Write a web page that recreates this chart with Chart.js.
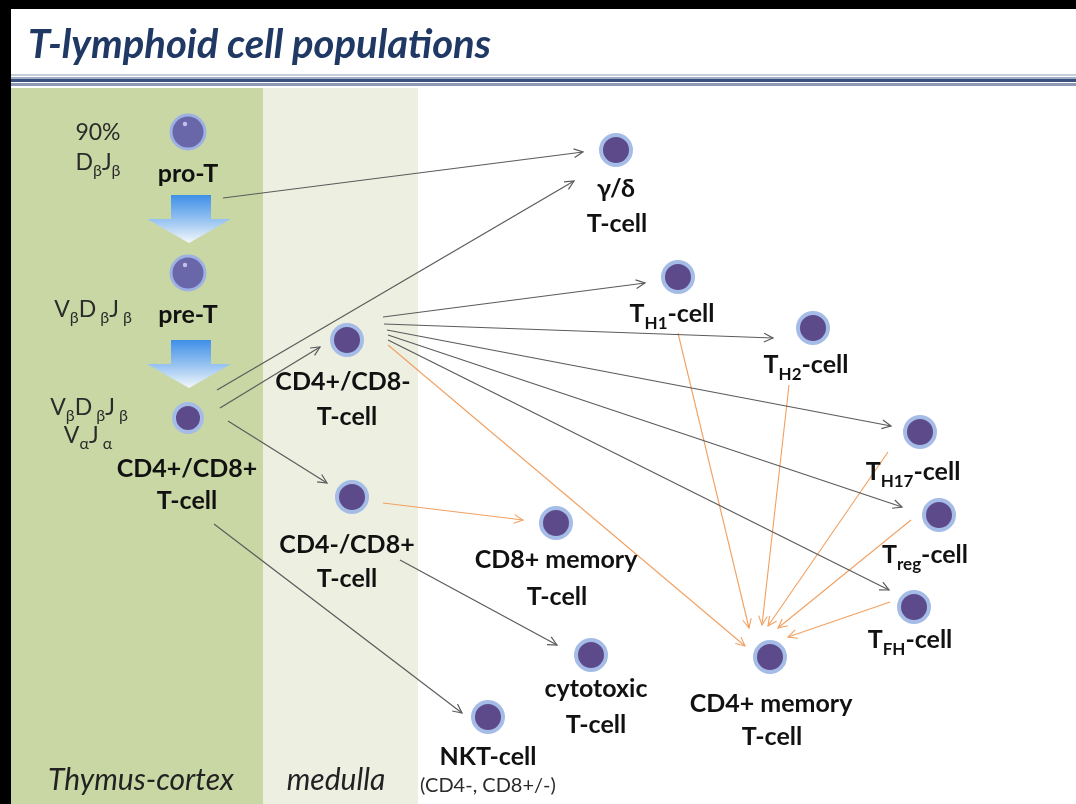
<!DOCTYPE html>
<html>
<head>
<meta charset="utf-8">
<script src="https://cdn.jsdelivr.net/npm/chart.js@4.4.1/dist/chart.umd.min.js"></script>
<style>
  html, body { margin: 0; padding: 0; background: #fff; overflow: hidden; }
  canvas { display: block; }
</style>
</head>
<body>
<canvas id="diagram" width="1076" height="804"></canvas>
<script>
// cell populations: centre of each cell in page pixels
const cellNames = ['pro-T', 'pre-T', 'CD4+/CD8+', 'γ/δ', 'TH1', 'TH2', 'CD4+/CD8-', 'TH17', 'Treg',
                   'CD4-/CD8+', 'CD8+ memory', 'TFH', 'cytotoxic', 'CD4+ memory', 'NKT'];
const cellX = [188, 188, 188, 616, 678, 813, 347, 920, 939, 352, 556, 914, 591, 770, 488];
const cellY = [132, 273, 418, 150, 277, 328, 340, 432, 515, 497, 523, 607, 655, 657, 717];

// differentiation arrows (start -> end), 'g' = grey, 'o' = orange (memory)
const arrowX1 = [223, 217, 220, 228, 214, 383, 384, 387, 388, 388, 400, 388, 383, 678, 789, 888, 911, 890];
const arrowY1 = [198, 390, 408, 421, 524, 317, 324, 330, 335, 340, 560, 345, 503, 333, 385, 452, 520, 602];
const arrowX2 = [583, 574, 320, 327, 462, 645, 773, 891, 902, 889, 557, 745, 523, 749, 762, 768, 778, 788];
const arrowY2 = [152, 181, 347, 483, 713, 283, 338, 426, 507, 590, 645, 646, 520, 628, 625, 626, 628, 637];
const arrowKind = ['g', 'g', 'g', 'g', 'g', 'g', 'g', 'g', 'g', 'g', 'g', 'o', 'o', 'o', 'o', 'o', 'o', 'o'];

// text labels (x = centre, y = baseline); _{..} marks a subscript
const labelText = ['90%', 'D_{β}J_{β}', 'pro-T', 'V_{β}D_{ β}J_{ β}', 'pre-T', 'V_{β}D_{ β}J_{ β}', 'V_{α}J_{ α}',
                   'CD4+/CD8+', 'T-cell', 'γ/δ', 'T-cell', 'T_{H1}-cell', 'T_{H2}-cell', 'CD4+/CD8-', 'T-cell',
                   'T_{H17}-cell', 'T_{reg}-cell', 'CD4-/CD8+', 'T-cell', 'CD8+ memory', 'T-cell', 'T_{FH}-cell',
                   'cytotoxic', 'T-cell', 'CD4+ memory', 'T-cell', 'NKT-cell', '(CD4-, CD8+/-)'];
const labelX = [98, 98, 188, 93, 188, 89, 88, 187, 187, 616, 617, 672, 806, 343, 347, 913, 925, 347, 347,
                556, 557, 910, 596, 596, 771, 772, 488, 488];
const labelY = [140, 170, 182, 317, 323, 415, 443, 477, 509, 197, 232, 322, 373, 390, 425, 480, 563, 553, 587,
                568, 605, 648, 697, 733, 712, 745, 765, 792];
const labelBold = [0, 0, 1, 0, 1, 0, 0, 1, 1, 1, 1, 1, 1, 1, 1, 1, 1, 1, 1, 1, 1, 1, 1, 1, 1, 1, 1, 0];

// thymus zones
const zoneNames = ['Thymus-cortex', 'medulla'];
const zoneStart = [11, 263];
const zoneEnd = [263, 418];
const zoneLabelX = [141, 336];

const titleText = 'T-lymphoid cell populations';
const FONT = 'Lato, "Open Sans", sans-serif';

// draw a string with _{sub} parts, centred on x
function richText(ctx, str, x, y, size, weight, color) {
  const parts = [];
  const re = /_\{([^}]*)\}/g;
  let last = 0, m;
  while ((m = re.exec(str)) !== null) {
    if (m.index > last) parts.push({ t: str.slice(last, m.index), sub: false });
    parts.push({ t: m[1], sub: true });
    last = re.lastIndex;
  }
  if (last < str.length) parts.push({ t: str.slice(last), sub: false });
  const subSize = Math.round(size * 0.68);
  let total = 0;
  parts.forEach(p => {
    ctx.font = weight + ' ' + (p.sub ? subSize : size) + 'px ' + FONT;
    p.w = ctx.measureText(p.t).width;
    total += p.w;
  });
  let cx = x - total / 2;
  ctx.fillStyle = color;
  ctx.textAlign = 'left';
  ctx.textBaseline = 'alphabetic';
  parts.forEach(p => {
    ctx.font = weight + ' ' + (p.sub ? subSize : size) + 'px ' + FONT;
    ctx.fillText(p.t, cx, p.sub ? y + size * 0.28 : y);
    cx += p.w;
  });
}

const diagramPlugin = {
  id: 'diagram',
  beforeDraw(chart) {
    const { ctx, scales: { x, y } } = chart;
    ctx.save();
    ctx.fillStyle = '#fff';
    ctx.fillRect(0, 0, chart.width, chart.height);
    // zone bands
    const zoneColors = ['#c9d7a5', '#edefe1'];
    zoneNames.forEach((n, i) => {
      ctx.fillStyle = zoneColors[i];
      ctx.fillRect(x.getPixelForValue(zoneStart[i]), y.getPixelForValue(88),
                   x.getPixelForValue(zoneEnd[i]) - x.getPixelForValue(zoneStart[i]),
                   y.getPixelForValue(804) - y.getPixelForValue(88));
    });
    // black slide frame
    ctx.fillStyle = '#000';
    ctx.fillRect(0, 0, chart.width, 9);
    ctx.fillRect(0, 0, 11, chart.height);
    // title and rule
    ctx.font = 'italic bold 40px ' + FONT;
    ctx.fillStyle = '#1f3864';
    ctx.textAlign = 'left';
    ctx.textBaseline = 'alphabetic';
    ctx.fillText(titleText, 28, 58);
    const rules = [[75, 2, '#c5cede'], [78, 1.5, '#8292b2'], [80.5, 3, '#3b4f7e'], [84.5, 3, '#8c9ab6']];
    rules.forEach(r => {
      ctx.strokeStyle = r[2];
      ctx.lineWidth = r[1];
      ctx.beginPath();
      ctx.moveTo(11, r[0]);
      ctx.lineTo(chart.width, r[0]);
      ctx.stroke();
    });
    // zone names
    zoneNames.forEach((n, i) => {
      ctx.font = 'italic 30px ' + FONT;
      ctx.fillStyle = '#222';
      ctx.textAlign = 'center';
      ctx.fillText(n, x.getPixelForValue(zoneLabelX[i]), y.getPixelForValue(790));
    });
    ctx.restore();
  },
  beforeDatasetsDraw(chart) {
    const { ctx, scales: { x, y } } = chart;
    // blue block arrows between pro-T / pre-T / CD4+CD8+
    [195, 340].forEach(top => {
      const cx = x.getPixelForValue(189);
      const y0 = y.getPixelForValue(top);
      const y1 = y.getPixelForValue(top + 24);
      const y2 = y.getPixelForValue(top + 48);
      const g = ctx.createLinearGradient(0, y0, 0, y2);
      g.addColorStop(0, '#3f8fe8');
      g.addColorStop(0.55, '#9cc6f2');
      g.addColorStop(1, '#f4f8fc');
      ctx.save();
      ctx.fillStyle = g;
      ctx.beginPath();
      ctx.moveTo(cx - 18, y0);
      ctx.lineTo(cx + 22, y0);
      ctx.lineTo(cx + 22, y1);
      ctx.lineTo(cx + 42, y1);
      ctx.lineTo(cx, y2);
      ctx.lineTo(cx - 42, y1);
      ctx.lineTo(cx - 18, y1);
      ctx.closePath();
      ctx.fill();
      ctx.restore();
    });
  },
  afterDatasetsDraw(chart) {
    const { ctx } = chart;
    ctx.save();
    // arrowheads
    chart.data.datasets.forEach((ds, i) => {
      if (!ds.isArrow) return;
      const pts = chart.getDatasetMeta(i).data;
      const a = pts[0], b = pts[1];
      const ang = Math.atan2(b.y - a.y, b.x - a.x);
      ctx.strokeStyle = ds.borderColor;
      ctx.lineWidth = ds.borderWidth;
      ctx.beginPath();
      ctx.moveTo(b.x - 10 * Math.cos(ang - 0.45), b.y - 10 * Math.sin(ang - 0.45));
      ctx.lineTo(b.x, b.y);
      ctx.lineTo(b.x - 10 * Math.cos(ang + 0.45), b.y - 10 * Math.sin(ang + 0.45));
      ctx.stroke();
    });
    // glossy highlight on the two progenitor cells
    const cellMeta = chart.getDatasetMeta(chart.data.datasets.length - 1).data;
    [0, 1].forEach(i => {
      const p = cellMeta[i];
      ctx.fillStyle = 'rgba(220,215,245,0.8)';
      ctx.beginPath();
      ctx.arc(p.x - 3, p.y - 8, 2.2, 0, Math.PI * 2);
      ctx.fill();
    });
    // labels
    const { x, y } = chart.scales;
    labelText.forEach((t, i) => {
      const bold = labelBold[i] === 1;
      const size = bold ? 25 : (i === labelText.length - 1 ? 20 : 23);
      richText(ctx, t, x.getPixelForValue(labelX[i]), y.getPixelForValue(labelY[i]), size,
               bold ? 'bold' : 'normal', bold ? '#111' : '#2b2b2b');
    });
    ctx.restore();
  }
};

const arrowDatasets = arrowX1.map((x1, i) => ({
  isArrow: true,
  data: [{ x: x1, y: arrowY1[i] }, { x: arrowX2[i], y: arrowY2[i] }],
  showLine: true,
  borderColor: arrowKind[i] === 'g' ? '#5b5b5b' : '#f2a061',
  borderWidth: arrowKind[i] === 'g' ? 1.2 : 1.1,
  pointRadius: 0,
  order: 2
}));

const progenitor = n => n === 'pro-T' || n === 'pre-T';
const cellDataset = {
  data: cellX.map((cx, i) => ({ x: cx, y: cellY[i] })),
  pointRadius: cellNames.map(n => progenitor(n) ? 17 : (n === 'CD4+/CD8+' ? 14 : 15)),
  pointBackgroundColor: cellNames.map(n => progenitor(n) ? '#6a66aa' : '#5c4a8a'),
  pointBorderColor: cellNames.map(n => progenitor(n) ? '#9db2e2' : '#a5bce6'),
  pointBorderWidth: cellNames.map(n => progenitor(n) ? 3 : 4),
  showLine: false,
  order: 1
};

new Chart(document.getElementById('diagram').getContext('2d'), {
  type: 'scatter',
  data: { datasets: [...arrowDatasets, cellDataset] },
  options: {
    responsive: false,
    animation: false,
    events: [],
    layout: { padding: 0, autoPadding: false },
    plugins: { legend: { display: false }, tooltip: { enabled: false } },
    scales: {
      x: { type: 'linear', min: 0, max: 1076, display: false },
      y: { type: 'linear', min: 0, max: 804, reverse: true, display: false }
    }
  },
  plugins: [diagramPlugin]
});
</script>
</body>
</html>
